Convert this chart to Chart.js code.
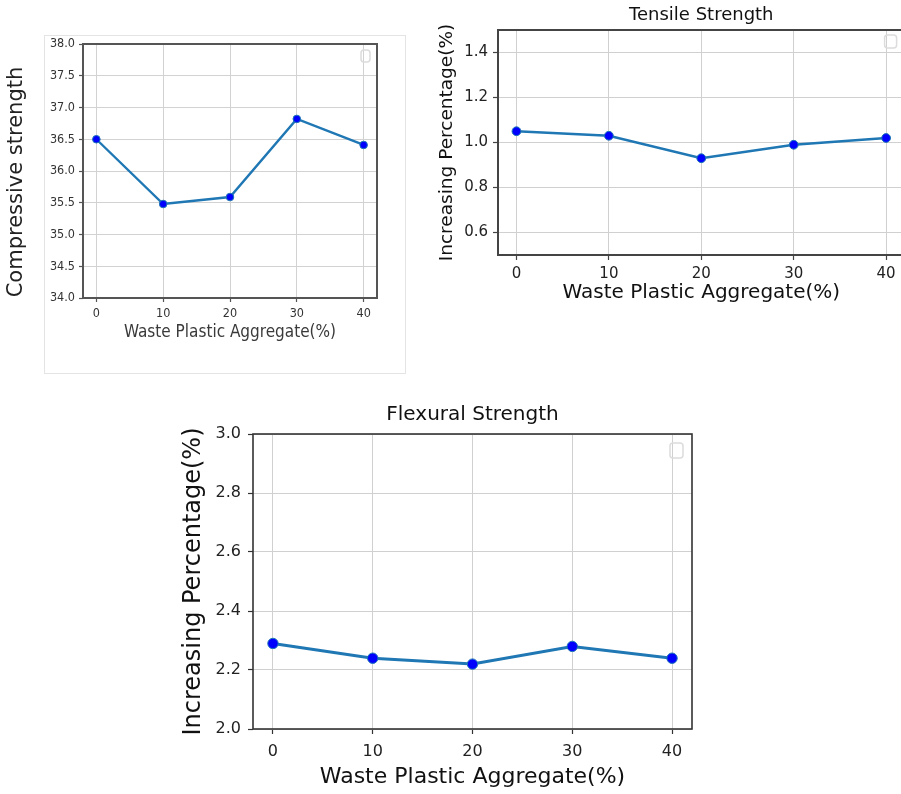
<!DOCTYPE html>
<html>
<head>
<meta charset="utf-8">
<script src="https://cdn.jsdelivr.net/npm/chart.js@4.4.1/dist/chart.umd.min.js"></script>
<style>
  html, body { margin: 0; padding: 0; background: #fff; width: 901px; height: 794px; overflow: hidden; }
  canvas { position: absolute; }
  #compChart { left: 0; top: 30px; width: 410px; height: 345px; }
  #tensileChart { left: 420px; top: 0; width: 490px; height: 310px; }
  #flexChart { left: 160px; top: 395px; width: 541px; height: 399px; }
</style>
</head>
<body>
<canvas id="compChart" width="410" height="345"></canvas>
<canvas id="tensileChart" width="490" height="310"></canvas>
<canvas id="flexChart" width="541" height="399"></canvas>
<script>
// waste plastic aggregate content (%) and the measured results
let aggregate = [0, 10, 20, 30, 40];
let compressive = [36.5, 35.48, 35.59, 36.82, 36.41];
let tensile = [1.05, 1.03, 0.93, 0.99, 1.02];
let flexural = [2.29, 2.24, 2.22, 2.28, 2.24];

// tick labels
let xTicks = [0, 10, 20, 30, 40];
let compTicks = [34.0, 34.5, 35.0, 35.5, 36.0, 36.5, 37.0, 37.5, 38.0];
let tensileTicks = [0.6, 0.8, 1.0, 1.2, 1.4];
let flexTicks = [2.0, 2.2, 2.4, 2.6, 2.8, 3.0];

let FONT = '"DejaVu Sans", sans-serif';
let CONDENSED = '"DejaVu Sans Condensed", "DejaVu Sans", sans-serif';

//turn two arrays into {x, y} points
function pairUp(xs, ys){
  let pts = [];
  for(let i = 0; i < xs.length; i++){
    pts.push({ x: xs[i], y: ys[i] });
  }
  return pts;
}

//box around the plot, empty legend frame, outer frame and a free y title
let axisBox = {
  id: 'axisBox',
  beforeDraw(chart, args, o){
    let c = chart.ctx;
    if(o.outer){
      c.save();
      c.strokeStyle = o.outer.color;
      c.lineWidth = 1;
      c.strokeRect(o.outer.x + 0.5, o.outer.y + 0.5, o.outer.w, o.outer.h);
      c.restore();
    }
  },
  afterDraw(chart, args, o){
    let c = chart.ctx;
    let a = chart.chartArea;
    c.save();
    c.strokeStyle = o.color;
    c.lineWidth = o.width;
    c.strokeRect(a.left, a.top, a.right - a.left, a.bottom - a.top);
    if(o.legend){
      let lg = o.legend;
      c.strokeStyle = '#dcdcdc';
      c.lineWidth = 1.5;
      c.beginPath();
      c.roundRect(a.right - lg.right - lg.w, a.top + lg.top, lg.w, lg.h, 3);
      c.stroke();
    }
    if(o.sideTitle){
      let st = o.sideTitle;
      c.translate(st.x, st.y);
      c.rotate(-Math.PI / 2);
      c.fillStyle = st.color;
      c.font = st.size + 'px ' + st.family;
      c.textAlign = 'center';
      c.textBaseline = 'middle';
      c.fillText(st.text, 0, 0);
    }
    c.restore();
  }
};

//declare a function to build one panel
function buildChart(canvasId, s){
  let ctx = document.getElementById(canvasId).getContext('2d');
  return new Chart(ctx, {
    type: 'line',
    data: {
      datasets: [{
        data: pairUp(aggregate, s.values),
        borderColor: '#1f77b4',
        borderWidth: s.lineWidth,
        pointRadius: s.pointRadius,
        pointBackgroundColor: '#0000ff',
        pointBorderColor: '#1f77b4',
        pointBorderWidth: 1,
        tension: 0
      }]
    },
    options: {
      responsive: false,
      animation: false,
      events: [],
      layout: { padding: s.padding },
      plugins: {
        legend: { display: false },
        tooltip: { enabled: false },
        title: {
          display: !!s.title,
          text: s.title || '',
          fullSize: false,
          color: '#111',
          font: { family: FONT, size: s.titleSize, weight: 'normal' },
          padding: s.titlePad
        },
        axisBox: {
          color: s.spineColor,
          width: s.spineWidth,
          legend: s.legendBox,
          outer: s.outer,
          sideTitle: s.sideTitle
        }
      },
      scales: {
        x: {
          type: 'linear',
          min: -2,
          max: 42,
          afterBuildTicks: sc => { sc.ticks = xTicks.map(v => ({ value: v })); },
          afterFit: sc => { sc.height = s.xHeight; },
          border: { display: false },
          grid: { color: s.gridColor, lineWidth: 1, tickLength: s.tickLen, tickColor: s.spineColor, tickWidth: 1.2 },
          ticks: {
            autoSkip: false, maxRotation: 0, padding: s.xTickPad,
            color: s.tickColor, font: { family: s.tickFamily, size: s.tickSize },
            callback: v => String(v)
          },
          title: {
            display: true,
            text: 'Waste Plastic Aggregate(%)',
            color: s.xTitleColor,
            font: { family: s.xTitleFamily, size: s.xTitleSize },
            padding: { top: 0, bottom: s.xTitlePad }
          }
        },
        y: {
          min: s.yMin,
          max: s.yMax,
          afterBuildTicks: sc => { sc.ticks = s.yTicks.map(v => ({ value: v })); },
          afterFit: sc => { sc.width = s.yWidth; },
          border: { display: false },
          grid: { color: s.gridColor, lineWidth: 1, tickLength: s.tickLen, tickColor: s.spineColor, tickWidth: 1.2 },
          ticks: {
            autoSkip: false, padding: s.yTickPad,
            color: s.tickColor, font: { family: s.tickFamily, size: s.tickSize },
            callback: v => v.toFixed(1)
          },
          title: {
            display: !!s.yTitle,
            text: s.yTitle || '',
            color: '#111',
            font: { family: FONT, size: s.yTitleSize },
            padding: { top: s.yTitlePad, bottom: 0 }
          }
        }
      }
    },
    plugins: [axisBox]
  });
}

//compressive strength panel
buildChart('compChart', {
  values: compressive, yTicks: compTicks, yMin: 34, yMax: 38,
  padding: { top: 14, right: 33, left: 0, bottom: 0 },
  yWidth: 83, xHeight: 77,
  tickLen: 4, xTickPad: 4, yTickPad: 4,
  tickFamily: CONDENSED, tickSize: 12.5, tickColor: '#333',
  xTitleFamily: CONDENSED, xTitleSize: 17, xTitleColor: '#3a3a3a', xTitlePad: 31.8,
  gridColor: '#d2d2d2', spineColor: '#555', spineWidth: 2,
  lineWidth: 2.4, pointRadius: 3.8,
  legendBox: { right: 7, top: 6, w: 9, h: 12 },
  outer: { x: 44, y: 5, w: 361, h: 338, color: '#e4e4e4' },
  sideTitle: { text: 'Compressive strength', x: 17, y: 152, size: 21, family: FONT, color: '#222' }
});

//tensile strength panel
buildChart('tensileChart', {
  values: tensile, yTicks: tensileTicks, yMin: 0.5, yMax: 1.5,
  padding: { top: 0, right: 4, left: 0, bottom: 0 },
  title: 'Tensile Strength', titleSize: 18, titlePad: { top: 4.2, bottom: 4.2 },
  yWidth: 78, xHeight: 55,
  tickLen: 5, xTickPad: 5, yTickPad: 5,
  tickFamily: FONT, tickSize: 15, tickColor: '#222',
  yTitle: 'Increasing Percentage(%)', yTitleSize: 18.5, yTitlePad: 16,
  xTitleFamily: FONT, xTitleSize: 20, xTitleColor: '#111', xTitlePad: 5,
  gridColor: '#d0d0d0', spineColor: '#444', spineWidth: 2,
  lineWidth: 2.5, pointRadius: 4.4,
  legendBox: { right: 8, top: 5, w: 12, h: 13 }
});

//flexural strength panel
buildChart('flexChart', {
  values: flexural, yTicks: flexTicks, yMin: 2, yMax: 3,
  padding: { top: 0, right: 9, left: 0, bottom: 0 },
  title: 'Flexural Strength', titleSize: 20, titlePad: { top: 8, bottom: 7 },
  yWidth: 93, xHeight: 65,
  tickLen: 5, xTickPad: 8, yTickPad: 7,
  tickFamily: FONT, tickSize: 16, tickColor: '#222',
  yTitle: 'Increasing Percentage(%)', yTitleSize: 24, yTitlePad: 19.6,
  xTitleFamily: FONT, xTitleSize: 22, xTitleColor: '#111', xTitlePad: 3.8,
  gridColor: '#d0d0d0', spineColor: '#333', spineWidth: 1.6,
  lineWidth: 3, pointRadius: 5.2,
  legendBox: { right: 9, top: 9, w: 13, h: 15 }
});
</script>
</body>
</html>
